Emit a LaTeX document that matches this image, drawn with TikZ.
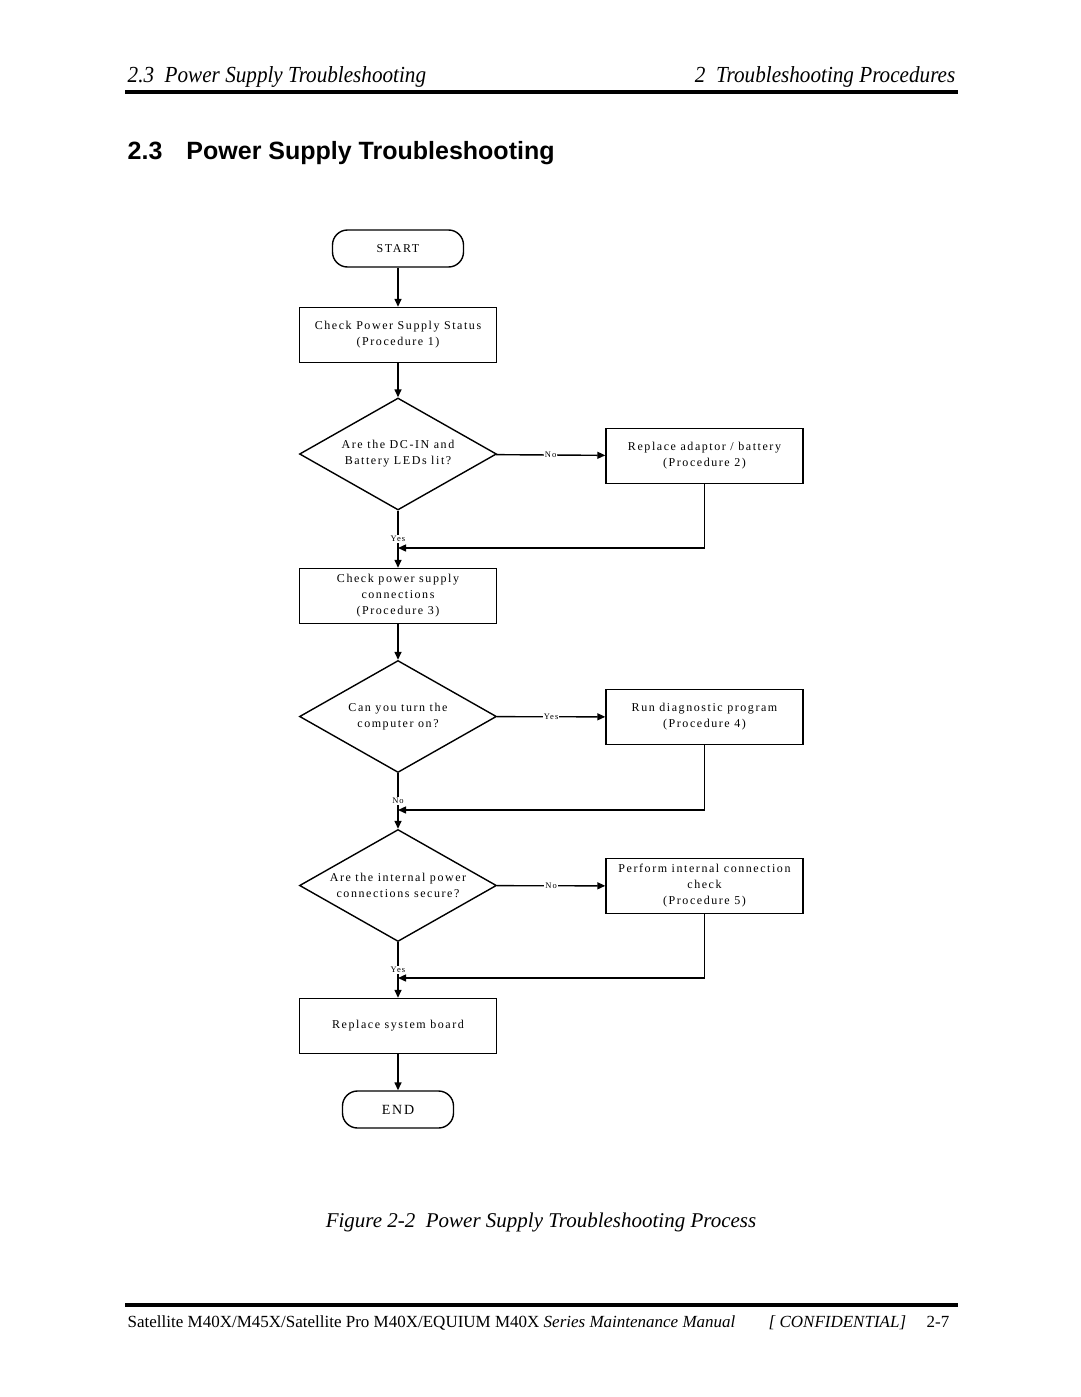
\documentclass[tikz,border=0pt]{standalone}
\usepackage{fontspec}
\setmainfont{Liberation Serif}
\newfontfamily\chartfont[LetterSpace=13]{Liberation Serif}
\newfontfamily\pagefont[FakeStretch=0.92]{Liberation Serif}
\newfontfamily\titlefont{Liberation Sans}
\usetikzlibrary{arrows.meta, shapes.geometric}

\begin{document}
\begin{tikzpicture}[x=1pt, y=-1pt, >={Triangle[length=8pt, width=7pt]}, line width=1.4pt,
  procbox/.style={draw, rectangle, minimum width=197pt, minimum height=55pt, inner sep=0pt,
    align=center, font=\chartfont\fontsize{12}{16}\selectfont},
  decision/.style={draw, diamond, aspect=1.76, minimum width=197pt, minimum height=112pt,
    inner sep=0pt, align=center, font=\chartfont\fontsize{12}{16}\selectfont},
  term/.style={draw, rectangle, rounded corners=15pt, minimum width=131pt, minimum height=37pt,
    inner sep=0pt, font=\chartfont\fontsize{12}{14}\selectfont},
  lbl/.style={fill=white, inner sep=1pt, font=\chartfont\fontsize{8.5}{9}\selectfont},
  pagetext/.style={inner sep=0pt}]
  \useasboundingbox (0,0) rectangle (1080,1397);

  % page header and footer
  \node[pagetext, anchor=base west, font=\pagefont\itshape\fontsize{23}{27}\selectfont] (hdleft) at (127,82) {2.3\ \ Power Supply Troubleshooting};
  \node[pagetext, anchor=base east, font=\pagefont\itshape\fontsize{23}{27}\selectfont] (hdright) at (956,82) {2\ \ Troubleshooting Procedures};
  \draw[line width=3.5pt] (125,92) -- (958,92);
  \node[pagetext, anchor=base west, font=\titlefont\bfseries\fontsize{25}{29}\selectfont] (title) at (127,159) {2.3\hspace{24pt}Power Supply Troubleshooting};
  \node[pagetext, anchor=base, font=\itshape\fontsize{21}{25}\selectfont] (caption) at (541,1227) {Figure 2-2\ \ Power Supply Troubleshooting Process};
  \draw[line width=3.5pt] (125,1305) -- (958,1305);
  \node[pagetext, anchor=base west, font=\fontsize{17}{20}\selectfont] (foot) at (127,1327) {Satellite M40X/M45X/Satellite Pro M40X/EQUIUM M40X \textit{Series Maintenance Manual}};
  \node[pagetext, anchor=base west, font=\itshape\fontsize{17}{20}\selectfont] (conf) at (768,1327) {[ CONFIDENTIAL]};
  \node[pagetext, anchor=base east, font=\fontsize{17}{20}\selectfont] (pagenum) at (950,1327) {2-7};

  % flow chart
  \node[term] (start) at (398,248.5) {START};
  \node[procbox] (chkstat) at (398,335) {Check Power Supply Status\\(Procedure 1)};
  \node[decision] (ledslit) at (398,454) {Are the DC-IN and\\Battery LEDs lit?};
  \node[procbox] (adaptor) at (704.5,456) {Replace adaptor / battery\\(Procedure 2)};
  \node[procbox] (chkconn) at (398,596) {Check power supply\\connections\\(Procedure 3)};
  \node[decision] (turnon) at (398,716.5) {Can you turn the\\computer on?};
  \node[procbox] (diag) at (704.5,717) {Run diagnostic program\\(Procedure 4)};
  \node[decision] (secure) at (398,885.5) {Are the internal power\\connections secure?};
  \node[procbox] (intchk) at (704.5,886) {Perform internal connection\\check\\(Procedure 5)};
  \node[procbox] (board) at (398,1026) {Replace system board};
  \node[term, minimum width=111pt, font=\chartfont\fontsize{14}{16}\selectfont] (end) at (398,1109.5) {END};

  \coordinate (join1) at (398,548);
  \coordinate (join2) at (398,810);
  \coordinate (join3) at (398,978);

  \draw[->] (start) -- (chkstat);
  \draw[->] (chkstat) -- (ledslit);
  \draw[->] (ledslit) -- node[lbl] {No} (adaptor);
  \draw[->] (ledslit) -- node[lbl] {Yes} (chkconn);
  \draw[->] (adaptor) |- (join1);
  \draw[->] (chkconn) -- (turnon);
  \draw[->] (turnon) -- node[lbl] {Yes} (diag);
  \draw[->] (turnon) -- node[lbl] {No} (secure);
  \draw[->] (diag) |- (join2);
  \draw[->] (secure) -- node[lbl] {No} (intchk);
  \draw[->] (secure) -- node[lbl] {Yes} (board);
  \draw[->] (intchk) |- (join3);
  \draw[->] (board) -- (end);
\end{tikzpicture}
\end{document}
